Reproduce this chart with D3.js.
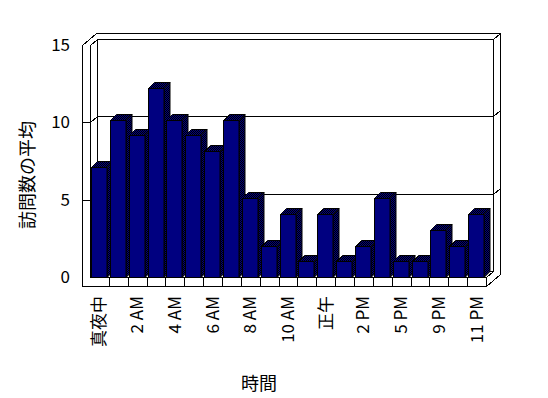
<!DOCTYPE html>
<html>
<head>
<meta charset="utf-8">
<script src="https://cdn.jsdelivr.net/npm/d3@7"></script>
<style>
  body { margin: 0; background: #fff; }
  text { font-family: "Noto Sans CJK JP", "DejaVu Sans", sans-serif; fill: #000; }
</style>
</head>
<body>
<div id="chart"></div>
<script>
/*
Data
*/

const categories = ["真夜中", "1 AM", "2 AM", "3 AM", "4 AM", "5 AM", "6 AM", "7 AM", "8 AM", "9 AM",
                    "10 AM", "11 AM", "正午", "1 PM", "2 PM", "4 PM", "5 PM", "7 PM", "9 PM", "10 PM", "11 PM"];
const visits = [7, 10, 9, 12, 10, 9, 8, 10, 5, 2, 4, 1, 4, 1, 2, 5, 1, 1, 3, 2, 4];
const yTicks = [0, 5, 10, 15];
const xTitle = "時間";
const yTitle = "訪問数の平均";

/*
Size constants
*/

const WIDTH = 548, HEIGHT = 398;
const plot = {left: 90, right: 486, floor: 277, top: 45};
const wallX = 82;          // outer edge of the left wall
const floorBottom = 286;   // bottom of the floor slab
const dx = 7, dy = -6;     // depth offset of one wall thickness

/*
Scales
*/

const x = d3.scaleBand()
            .domain(categories)
            .range([plot.left, plot.right]);

const y = d3.scaleLinear()
            .domain([0, 15])
            .range([plot.floor, plot.top]);

// bars sit a little behind the front plane, so their tops read slightly higher
const yBar = d3.scaleLinear()
               .domain([0, 15])
               .range([plot.floor, 40.8]);

const svg = d3.select("#chart")
              .append("svg")
              .attr("width", WIDTH)
              .attr("height", HEIGHT);

// dithered dark fill used for the shaded sides of the bars
const defs = svg.append("defs");
const pat = defs.append("pattern")
                .attr("id", "dither")
                .attr("width", 2)
                .attr("height", 2)
                .attr("patternUnits", "userSpaceOnUse");
pat.append("rect").attr("width", 2).attr("height", 2).attr("fill", "#000080");
pat.append("rect").attr("width", 1).attr("height", 1).attr("fill", "#000");
pat.append("rect").attr("x", 1).attr("y", 1).attr("width", 1).attr("height", 1).attr("fill", "#000");

const line = d3.line();
const frame = svg.append("g")
                 .attr("transform", "translate(0.5,0.5)")
                 .attr("shape-rendering", "crispEdges")
                 .attr("stroke", "#000")
                 .attr("fill", "none");

/*
Walls and floor
*/

const yTop = y(15);
const yBottom = y(0);

// outer silhouette
frame.append("path")
     .attr("d", line([[wallX, yTop], [wallX + 2 * dx, yTop + 2 * dy], [plot.right + 2 * dx, yTop + 2 * dy],
                      [plot.right + 2 * dx, floorBottom + 2 * dy], [plot.right, floorBottom],
                      [wallX, floorBottom]]) + "Z")
     .attr("fill", "#fff");

// back wall front face
frame.append("path")
     .attr("d", line([[plot.left + dx, yTop + dy], [plot.right + dx, yTop + dy],
                      [plot.right + dx, yBottom + dy], [plot.left + dx, yBottom + dy]]) + "Z");

// left wall inner face and top
frame.append("path")
     .attr("d", line([[plot.left, yBottom], [plot.left, yTop], [plot.left + dx, yTop + dy]]));
frame.append("path")
     .attr("d", line([[plot.left, yBottom], [plot.left + dx, yBottom + dy]]));

// right side of back wall / floor
frame.append("path")
     .attr("d", line([[plot.right + dx, yTop + dy], [plot.right + 2 * dx, yTop + 2 * dy]]));
frame.append("path")
     .attr("d", line([[plot.right, floorBottom], [plot.right, yBottom], [plot.right + dx, yBottom + dy]]));

// floor front face
frame.append("path")
     .attr("d", line([[plot.left, yBottom], [plot.right, yBottom]]));

// category dividers on the floor front
frame.selectAll("path.divider")
     .data(categories.slice(1))
     .enter()
     .append("path")
     .attr("class", "divider")
     .attr("d", d => {
         const px = Math.round(x(d));
         return line([[px, yBottom], [px, floorBottom]]);
     });

// gridlines: tick across the left wall, diagonal on its inner face, line on the back wall
yTicks.filter(v => v > 0 && v < 15).forEach(v => {
    const py = Math.round(y(v));
    frame.append("path")
         .attr("d", line([[wallX, py], [plot.left, py], [plot.left + dx, py + dy],
                          [plot.right + dx, py + dy], [plot.right + 2 * dx, py + 2 * dy]]));
});

/*
Bars
*/

const barW = 15.5;
const bdx = 6, bdy = -6;

const bars = svg.append("g")
                .attr("stroke", "#000")
                .attr("stroke-width", 1)
                .selectAll("g.bar")
                .data(categories.map((c, i) => ({cat: c, value: visits[i]})))
                .enter()
                .append("g")
                .attr("class", "bar");

bars.each(function(d) {
    const g = d3.select(this);
    const x0 = Math.round(x(d.cat) + 1) + 0.5;
    const x1 = x0 + barW;
    const yt = Math.round(yBar(d.value)) + 0.5;
    const yb = plot.floor + 0.5;

    // side face
    g.append("path")
     .attr("d", line([[x1, yt], [x1 + bdx, yt + bdy], [x1 + bdx, yb + bdy], [x1, yb]]) + "Z")
     .attr("fill", "url(#dither)");
    // top face
    g.append("path")
     .attr("d", line([[x0, yt], [x0 + bdx, yt + bdy], [x1 + bdx, yt + bdy], [x1, yt]]) + "Z")
     .attr("fill", "url(#dither)");
    // front face
    g.append("rect")
     .attr("x", x0)
     .attr("y", yt)
     .attr("width", barW)
     .attr("height", yb - yt)
     .attr("fill", "#000080");
});

/*
Axes and labels
*/

const yAxis = svg.append("g")
                 .attr("transform", `translate(${wallX},0)`)
                 .call(d3.axisLeft(y).tickValues(yTicks).tickSize(0).tickPadding(12));
yAxis.select(".domain").remove();
yAxis.selectAll("text")
     .attr("fill", "#000")
     .style("font-size", "17px")
     .style("font-family", "\"Noto Sans CJK JP\", sans-serif");

svg.append("g")
   .selectAll("text")
   .data(categories.filter((c, i) => i % 2 === 0))
   .enter()
   .append("text")
   .attr("transform", d => `translate(${x(d) + x.bandwidth() / 2}, 296) rotate(-90)`)
   .attr("text-anchor", "end")
   .attr("dy", "0.35em")
   .attr("fill", "#000")
   .style("font-size", "17px")
   .text(d => d);

svg.append("text")
   .attr("x", 259)
   .attr("y", 390)
   .attr("text-anchor", "middle")
   .style("font-size", "18px")
   .text(xTitle);

svg.append("text")
   .attr("transform", "translate(28,175) rotate(-90)")
   .attr("text-anchor", "middle")
   .attr("dy", "0.35em")
   .style("font-size", "18px")
   .text(yTitle);
</script>
</body>
</html>
